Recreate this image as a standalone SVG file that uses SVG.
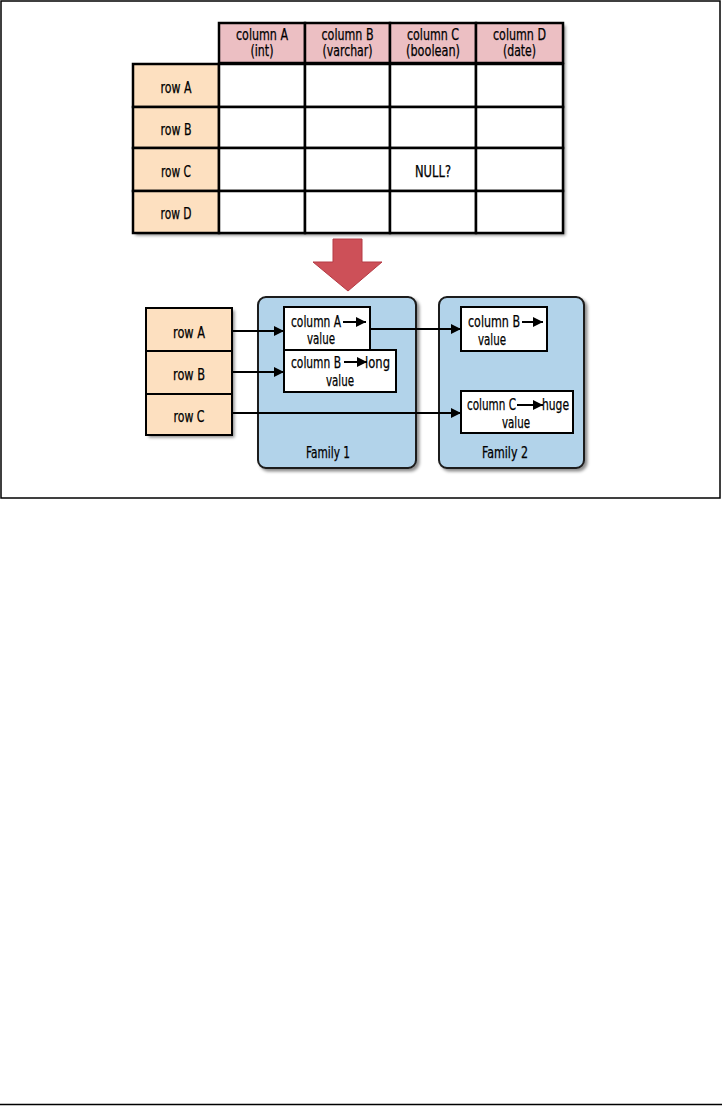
<svg xmlns="http://www.w3.org/2000/svg" width="722" height="1106" viewBox="0 0 722 1106">
<defs>
<filter id="sh" x="-10%" y="-10%" width="130%" height="130%">
<feDropShadow dx="2.5" dy="2.5" stdDeviation="1.5" flood-color="#000" flood-opacity="0.45"/>
</filter>
<marker id="ah" viewBox="0 0 10 10" refX="10" refY="5" markerWidth="10" markerHeight="11" markerUnits="userSpaceOnUse" orient="auto">
<path d="M0,0 L10,5 L0,10 z" fill="#000"/>
</marker>
<marker id="ahs" viewBox="0 0 10 10" refX="10" refY="5" markerWidth="10" markerHeight="11" markerUnits="userSpaceOnUse" orient="auto">
<path d="M0,0 L10,5 L0,10 z" fill="#000"/>
</marker>
</defs>
<style>
text{font-family:"Liberation Sans Narrow","DejaVu Sans Condensed","Liberation Sans",sans-serif;font-size:15px;fill:#000;stroke:#000;stroke-width:0.25}
.c{text-anchor:middle}
.hdr{fill:#ecbfc3;stroke:#000;stroke-width:2.5}
.lab{fill:#fde0c0;stroke:#000;stroke-width:2.5}
.cell{fill:#fff;stroke:#000;stroke-width:2.5}
.fam{fill:#b2d3ea;stroke:#1a1a1a;stroke-width:2}
.val{fill:#fff;stroke:#000;stroke-width:2}
.row{fill:#fde0c0;stroke:#000;stroke-width:2}
.con{stroke:#000;stroke-width:2;fill:none}
.sa{stroke:#000;stroke-width:2;fill:none}
</style>
<rect x="1" y="1" width="719" height="497" fill="none" stroke="#000" stroke-width="1.5"/>
<line x1="0" y1="1104.5" x2="722" y2="1104.5" stroke="#000" stroke-width="1.5"/>

<g id="table">
<g filter="url(#sh)">
<rect x="133" y="64" width="430" height="169" fill="#fff"/>
<rect x="219" y="23" width="344" height="41" fill="#fff"/>
</g>
<g id="headers">
<rect class="hdr" x="219" y="23" width="86" height="40"/>
<rect class="hdr" x="305" y="23" width="85" height="40"/>
<rect class="hdr" x="390" y="23" width="86" height="40"/>
<rect class="hdr" x="476" y="23" width="87" height="40"/>
<text class="c" x="262" y="40" textLength="52" lengthAdjust="spacingAndGlyphs">column A</text><text class="c" x="262" y="56" textLength="23" lengthAdjust="spacingAndGlyphs">(int)</text>
<text class="c" x="347.5" y="40" textLength="52" lengthAdjust="spacingAndGlyphs">column B</text><text class="c" x="347.5" y="56" textLength="50" lengthAdjust="spacingAndGlyphs">(varchar)</text>
<text class="c" x="433" y="40" textLength="52" lengthAdjust="spacingAndGlyphs">column C</text><text class="c" x="433" y="56" textLength="54" lengthAdjust="spacingAndGlyphs">(boolean)</text>
<text class="c" x="519.5" y="40" textLength="53" lengthAdjust="spacingAndGlyphs">column D</text><text class="c" x="519.5" y="56" textLength="33" lengthAdjust="spacingAndGlyphs">(date)</text>
</g>
<g id="rowlabels">
<rect class="lab" x="133" y="64" width="86" height="43"/>
<rect class="lab" x="133" y="107" width="86" height="41"/>
<rect class="lab" x="133" y="148" width="86" height="43"/>
<rect class="lab" x="133" y="191" width="86" height="42"/>
<text class="c" x="176" y="93" textLength="31" lengthAdjust="spacingAndGlyphs">row A</text>
<text class="c" x="176" y="135" textLength="31" lengthAdjust="spacingAndGlyphs">row B</text>
<text class="c" x="176" y="177" textLength="30" lengthAdjust="spacingAndGlyphs">row C</text>
<text class="c" x="176" y="219" textLength="31" lengthAdjust="spacingAndGlyphs">row D</text>
</g>
<g id="cells">
<rect class="cell" x="219" y="64" width="86" height="43"/><rect class="cell" x="305" y="64" width="85" height="43"/><rect class="cell" x="390" y="64" width="86" height="43"/><rect class="cell" x="476" y="64" width="87" height="43"/>
<rect class="cell" x="219" y="107" width="86" height="41"/><rect class="cell" x="305" y="107" width="85" height="41"/><rect class="cell" x="390" y="107" width="86" height="41"/><rect class="cell" x="476" y="107" width="87" height="41"/>
<rect class="cell" x="219" y="148" width="86" height="43"/><rect class="cell" x="305" y="148" width="85" height="43"/><rect class="cell" x="390" y="148" width="86" height="43"/><rect class="cell" x="476" y="148" width="87" height="43"/>
<rect class="cell" x="219" y="191" width="86" height="42"/><rect class="cell" x="305" y="191" width="85" height="42"/><rect class="cell" x="390" y="191" width="86" height="42"/><rect class="cell" x="476" y="191" width="87" height="42"/>
<text class="c" x="433" y="177" textLength="36" lengthAdjust="spacingAndGlyphs">NULL?</text>
</g>
</g>

<g id="bigarrow">
<polygon points="333,239 362,239 362,262 382,262 348,291 313,262 333,262" fill="#cd5058" stroke="#b53a44" stroke-width="1"/>
</g>

<g id="rows">
<g filter="url(#sh)"><rect x="146" y="308" width="86" height="127" fill="#fde0c0"/></g>
<g id="rowA"><rect class="row" x="146" y="308" width="86" height="43"/><text class="c" x="189" y="338" textLength="32" lengthAdjust="spacingAndGlyphs">row A</text></g>
<g id="rowB"><rect class="row" x="146" y="351" width="86" height="43"/><text class="c" x="189" y="380" textLength="32" lengthAdjust="spacingAndGlyphs">row B</text></g>
<g id="rowC"><rect class="row" x="146" y="394" width="86" height="41"/><text class="c" x="189" y="422" textLength="31" lengthAdjust="spacingAndGlyphs">row C</text></g>
</g>

<g id="family1">
<rect class="fam" x="258" y="297" width="158" height="171" rx="8" filter="url(#sh)"/>
<text class="c" x="328" y="458" textLength="44" lengthAdjust="spacingAndGlyphs">Family 1</text>
</g>
<g id="family2">
<rect class="fam" x="439" y="297" width="145" height="171" rx="8" filter="url(#sh)"/>
<text class="c" x="505" y="458" textLength="46" lengthAdjust="spacingAndGlyphs">Family 2</text>
</g>

<g id="f1colA">
<rect class="val" x="284" y="307" width="86" height="43"/>
<text x="291" y="327" textLength="50" lengthAdjust="spacingAndGlyphs">column A</text>
<line class="sa" x1="343" y1="322" x2="366" y2="322" marker-end="url(#ahs)"/>
<text class="c" x="321" y="344" textLength="28" lengthAdjust="spacingAndGlyphs">value</text>
</g>
<g id="f1colB">
<rect class="val" x="284" y="350" width="112" height="42"/>
<text x="291" y="368" textLength="50" lengthAdjust="spacingAndGlyphs">column B</text>
<line class="sa" x1="344" y1="362" x2="367" y2="362" marker-end="url(#ahs)"/>
<text x="365" y="368" textLength="25" lengthAdjust="spacingAndGlyphs">long</text>
<text class="c" x="340" y="386" textLength="28" lengthAdjust="spacingAndGlyphs">value</text>
</g>
<g id="f2colB">
<rect class="val" x="461" y="307" width="86" height="44"/>
<text x="468" y="327" textLength="52" lengthAdjust="spacingAndGlyphs">column B</text>
<line class="sa" x1="522" y1="322" x2="543" y2="322" marker-end="url(#ahs)"/>
<text class="c" x="492" y="345" textLength="28" lengthAdjust="spacingAndGlyphs">value</text>
</g>
<g id="f2colC">
<rect class="val" x="461" y="391" width="112" height="42"/>
<text x="467" y="410" textLength="49" lengthAdjust="spacingAndGlyphs">column C</text>
<line class="sa" x1="517" y1="405" x2="543" y2="405" marker-end="url(#ahs)"/>
<text x="542" y="410" textLength="27" lengthAdjust="spacingAndGlyphs">huge</text>
<text class="c" x="516" y="428" textLength="28" lengthAdjust="spacingAndGlyphs">value</text>
</g>

<g id="connectors">
<line class="con" x1="232" y1="331" x2="284" y2="331" marker-end="url(#ah)"/>
<line class="con" x1="232" y1="372" x2="284" y2="372" marker-end="url(#ah)"/>
<line class="con" x1="370" y1="329" x2="461" y2="329" marker-end="url(#ah)"/>
<line class="con" x1="232" y1="413" x2="461" y2="413" marker-end="url(#ah)"/>
</g>
</svg>
